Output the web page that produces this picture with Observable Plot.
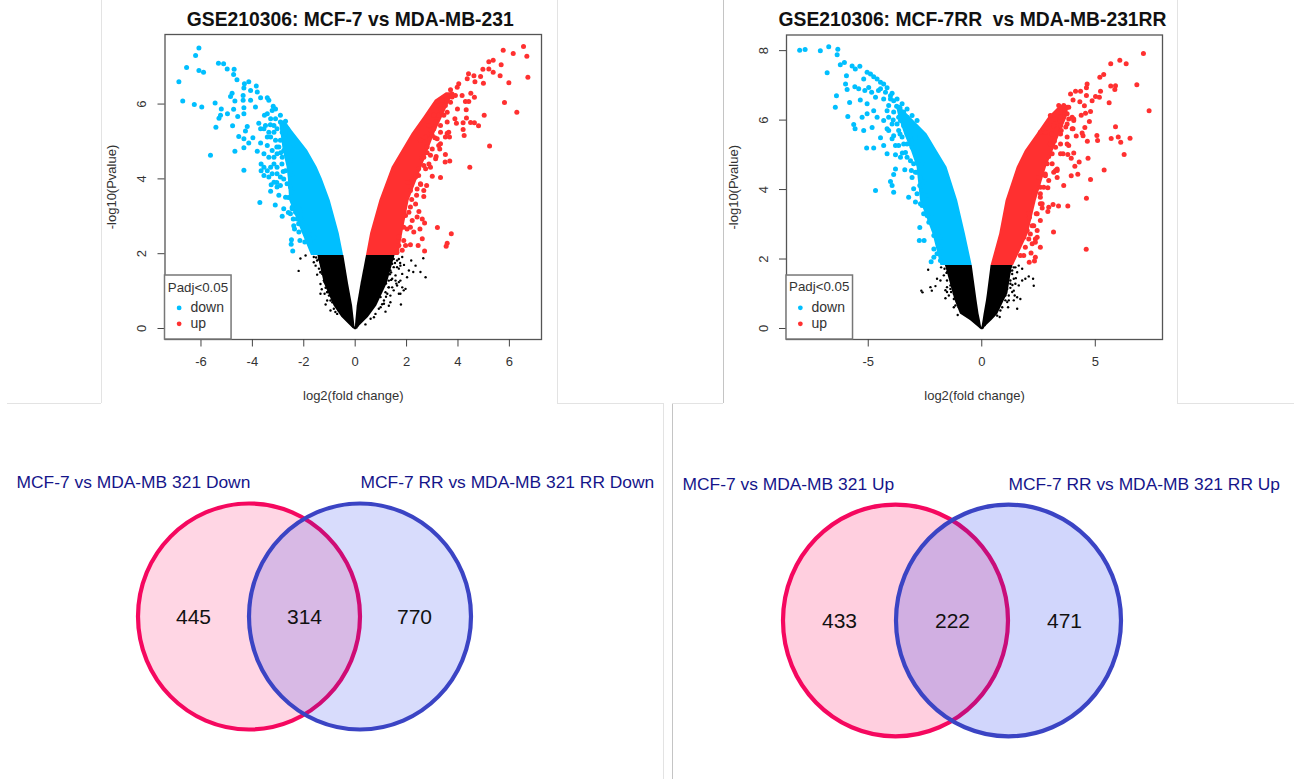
<!DOCTYPE html>
<html>
<head>
<meta charset="utf-8">
<script src="https://cdn.jsdelivr.net/npm/d3@7"></script>
<script src="https://cdn.jsdelivr.net/npm/@observablehq/plot@0.6"></script>
<style>
  html,body{margin:0;padding:0;background:#fff}
  #page{position:relative;width:1299px;height:779px;overflow:hidden;font-family:"Liberation Sans",Arial,sans-serif}
  #page svg{position:absolute;background:transparent;overflow:visible}
  .sep{position:absolute;background:#e3e3e3}
  .sep.dark{background:#c4c4c4}
</style>
</head>
<body>
<div id="page"></div>
<script>
const BLUE = "#00bfff", RED = "#ff3030";

// ---- Panel A: dense bands [-log10 P, x from, x to]
const aBlackLeftBand = [[0,-.08,0],[.3,-.52,-.05],[.6,-.82,-.1],[1.2,-1.2,-.26],[1.95,-1.45,-.44]];
const aBlackRightBand = [[0,0,.08],[.3,.04,.52],[.6,.08,.84],[1.2,.23,1.25],[1.95,.44,1.55]];
const aBlueBand = [[1.95,-1.7,-.45],[2.54,-2.05,-.62],[3.42,-2.55,-.97],[4,-2.6,-1.28],[4.31,-2.65,-1.48],[4.76,-2.8,-1.85],[5.29,-2.9,-2.45],[5.55,-2.95,-2.72]];
const aRedBand = [[1.95,.44,1.7],[2.54,.6,1.85],[3.42,.96,2.1],[4.31,1.44,2.6],[5.21,2.22,3.1],[5.65,2.67,3.4],[6.1,3.12,3.7],[6.3,3.55,3.8]];

// ---- Panel A: individually visible points [log2FC, -log10 P]
const aDown = [[-6.08,7.5],[-6.21,7.3],[-6.56,6.98],[-6.08,6.9],[-5.9,6.85],[-6.86,6.6],[-6.71,6.08],[-6.26,5.99],[-5.97,5.92],[-5.63,4.63],[-5.32,7.09],[-5.12,7.08],[-4.98,6.94],[-4.71,6.93],[-4.73,6.79],[-4.6,6.65],[-4.31,6.54],[-4.14,6.6],[-4.33,6.43],[-3.85,6.48],[-4.07,6.36],[-4.79,6.29],[-4.85,6.2],[-3.81,6.32],[-4.36,6.23],[-4.68,6.08],[-5.45,6.03],[-4.36,6.1],[-3.68,6.17],[-3.42,6.17],[-4.07,6.1],[-5.21,5.87],[-4.73,5.86],[-4.33,5.9],[-3.88,5.92],[-3.19,5.94],[-5.24,5.7],[-4.97,5.74],[-5.3,5.62],[-4.57,5.67],[-4.33,5.74],[-3.53,5.7],[-2.91,5.7],[-5.42,5.38],[-4.77,5.42],[-4.2,5.4],[-3.75,5.49],[-3.3,5.45],[-2.71,5.54],[-4.27,5.28],[-4.53,5.13],[-3.98,5.1],[-4.33,5.07],[-3.55,5.34],[-3.16,5.25],[-4.14,4.96],[-4.33,4.83],[-4.68,4.74],[-3.68,4.96],[-3.81,4.74],[-3.42,5.12],[-2.91,5.03],[-3.55,4.67],[-3.16,4.58],[-4.33,4.23],[-3.66,4.4],[-3.66,4.22],[-3.29,4.31],[-3.55,4.09],[-2.91,4.05],[-3.36,4.05],[-3.27,3.84],[-2.85,4.4],[-3.29,3.67],[-2.97,3.56],[-2.52,3.78],[-2.45,4.14],[-2.52,4.49],[-2.71,3.51],[-3.71,3.37],[-3.11,3.3],[-2.78,3.2],[-2.84,3],[-2.41,2.93],[-2.36,2.66],[-2,2.62],[-2.48,2.37],[-2.15,2.35],[-2.49,2.25],[-1.96,2.31],[-2.43,2.07],[-1.61,2.44],[-2.06,2.89],[-2.9,4.7],[-2.75,5.1],[-3.05,4.85],[-2.7,4.85],[-2.4,4.9],[-2.8,4.2],[-3.05,3.9],[-2.6,3.5],[-2.45,3.2],[-2.2,2.8],[-2.2,3.3],[-2.6,3.1],
 [-3.36,6.1],[-3.23,5.83],[-3.1,5.87],[-3.42,5.74],[-3.29,5.61],[-3.1,5.61],[-2.91,5.52],[-3.16,5.43],[-2.78,5.43],[-3.49,5.43],[-3.68,5.34],[-3.36,5.25],[-3.04,5.34],[-2.84,5.25],[-3.29,5.12],[-3.1,5.03],[-2.97,4.85],[-2.71,5.21],[-2.65,5.34],[-3.42,4.89],[-3.23,4.76],[-3.04,4.67],[-2.78,4.76],[-2.65,4.94],[-3.36,4.58],[-3.16,4.4],[-2.84,4.58],[-3.04,4.31],[-2.71,4.22],[-3.55,4.31],[-3.42,4.22],[-3.23,4.14],[-3.04,4.14],[-2.78,4],[-2.52,4.14],[-3.16,3.91],[-2.91,3.82],[-2.65,3.87],[-2.45,3.65],[-3.04,3.78],
 [-2.26,3.38],[-2.45,3.24],[-2.32,3.11],[-2.13,3.16],[-2.52,3.07],[-2.26,2.93],[-2.06,2.75],[-2.19,2.58],[-1.87,2.71],[-1.8,2.53],[-1.74,2.31],[-2.39,2.75],[-2.13,2.98]];
const aUp = [[6.55,7.54],[5.76,7.44],[6.15,7.35],[6.68,7.28],[5.37,7.17],[5.2,7.13],[5.68,7.05],[5.2,6.94],[4.97,6.93],[5.37,6.85],[5.64,6.76],[6.72,6.72],[4.41,6.81],[4.62,6.76],[4.88,6.74],[4.36,6.68],[4.66,6.6],[4.99,6.56],[5.98,6.57],[4.03,6.54],[3.97,6.45],[3.71,6.38],[3.77,6.27],[4.5,6.29],[4.16,6.23],[4.64,6.18],[4.29,6.07],[4.42,6.07],[5.81,6.04],[3.98,5.87],[4.32,5.85],[6.29,5.78],[5.02,5.7],[3.88,5.61],[4.33,5.63],[4.2,5.5],[4.49,5.51],[4.64,5.5],[4.8,5.42],[3.94,5.49],[4.2,5.32],[4.24,5.16],[5.23,4.88],[4.46,4.31],[3.67,5.12],[3.58,5.22],[3.32,4.94],[3.29,4.8],[3.51,4.65],[3.68,4.48],[3.5,4.45],[2.87,4.4],[3,4.07],[3.32,4.04],[2.74,4.27],[2.78,3.82],[2.67,3.53],[2.39,3.56],[2.47,4.09],[2.15,3.91],[3,4.8],[3.58,5.78],[3.32,5.43],[2.35,3.33],[2.48,3.13],[2.09,3.11],[2.61,2.93],[2.22,2.89],[2.7,2.82],[2.02,2.66],[2.52,2.66],[2.28,2.58],[3.2,2.7],[3.74,2.53],[3.58,2.28],[3.54,2.2],[2.61,2.4],[2.15,2.24],[2.45,2.22],[2.7,2.07],[1.83,2.09],[1.89,2.35],[3.1,5.1],[2.95,5.3],[3.15,4.6],[2.8,4.7],[2.6,4.55],[2.55,3.85],[2.2,3.45],[2.05,3.9],
 [3.19,5.96],[3.39,6.1],[3.58,6.14],[3.77,6.19],[3.32,5.87],[3.51,5.96],[3.71,6.05],[3.9,6.23],[2.8,5.65],[3.06,5.7],[3.25,5.7],[3.45,5.7],[3.58,5.52],[3.13,5.52],[2.87,5.43],[3.32,5.25],[3.06,5.34],[3.64,5.25],[3.51,5.12],[3,5.16],[2.74,5.12],[3.19,5.07],[2.54,5.03],[2.8,4.85],[3.25,4.89],[2.93,4.63],[2.67,4.58],[3.13,4.54],[2.67,4.36],[2.93,4.31],[2.47,4.27],[2.35,4.05],[2.54,3.87],[2.15,3.69],[2.41,3.73],[2.67,3.69],
 [2.15,3.25],[1.96,3.02],[2.41,2.98],[1.89,2.71],[2.15,2.71],[1.7,2.44],[1.96,2.22],[1.7,2.22],[1.63,2.04]];
const aNsLeft = [[0,.01],[-.05,.03],[-.1,.08],[-1.61,1.91],[-1.48,1.82],[-1.54,1.68],[-1.35,1.77],[-1.41,1.6],[-1.28,1.46],[-1.48,1.44],[-1.35,1.19],[-1.15,1.09],[-1.02,.88],[-1.15,.64],[-.89,.7],[-.83,.53],[-.7,.39],[-.96,1.28],[-1.22,1.28],[-1.09,1.64],[-1.28,1.86],[-1.61,1.77],[-1.19,.93],[-.96,.48],[-1.35,.93],[-1.93,1.95],[-2.13,1.87],[-2.2,1.54],[-1.2,1.7],[-1.25,1.55],[-1.15,1.4],[-1.3,1.05],[-1.08,.98],[-1.1,1.2],[-1.42,1.85],[-1.52,1.9],[-1.18,1.8],[-1.35,1.5],
 [-1.22,1.91],[-1.41,1.86],[-1.15,1.73],[-1.35,1.51],[-1.09,1.46],[-1.19,1.24],[-1.02,1.28],[-1.09,.97],[-.89,1.02],[-.96,.75],[-.77,.75],[-.77,.44],[-.64,.48],[-1.09,.75]];
const aNsRight = [[.05,.03],[.1,.08],[2.65,1.88],[2.74,1.37],[2.54,1.51],[2.35,1.68],[2.18,1.82],[2.09,1.55],[2.26,1.51],[2.02,1.37],[1.96,1.06],[1.78,.64],[1.76,.93],[1.37,.7],[1.18,.45],[1.7,1.24],[1.5,1.64],[1.83,1.91],[1.63,1.82],[1.37,1.82],[1.57,1.42],[1.44,1.1],[1.25,.93],[1.12,.75],[1.31,1.28],[1.5,1.02],[1.83,1.46],[.99,.57],[.73,.3],[.4,.11],[1.3,1.9],[1.45,1.9],[1.55,1.75],[1.7,1.6],[1.4,1.5],[1.3,1.65],[1.4,1.3],[1.3,1.1],[1.6,1.2],[1.2,1.2],[1.15,1.5],[1.2,.85],[1.05,.65],[1.35,1.45],[1.75,1.75],[1.9,1.7],
 [1.12,1.91],[1.31,1.91],[1.5,1.86],[1.7,1.86],[1.25,1.73],[1.44,1.73],[1.63,1.64],[1.76,1.68],[1.18,1.6],[1.37,1.55],[1.57,1.28],[1.76,1.28],[1.44,1.33],[1.18,1.37],[1.31,1.1],[1.05,1.19],[1.63,1.15],[1.83,1.1],[1.89,1.02],[1.7,.93],[1.18,.97],[1.37,.88],[.99,.84],[1.12,.66],[1.31,.61],[.92,.53],[.79,.39],[.6,.26]];

// ---- Panel B
const bBlackLeftBand = [[0,-.08,0],[.23,-.5,-.06],[.42,-.94,-.12],[.81,-1.18,-.21],[1.38,-1.42,-.33],[1.81,-1.6,-.42]];
const bBlackRightBand = [[0,0,.08],[.23,.06,.45],[.4,.1,.7],[.81,.21,1.0],[1.0,.25,1.15],[1.81,.41,1.35]];
const bBlueBand = [[1.81,-1.8,-.42],[2.72,-2.15,-.72],[3.68,-2.7,-1.06],[4.64,-2.85,-1.53],[5.12,-3.1,-1.97],[5.6,-3.4,-2.41],[6.08,-3.65,-3.14],[6.37,-3.75,-3.58]];
const bRedBand = [[1.81,.41,1.4],[2.72,.79,2.05],[3.68,1.07,2.4],[4.64,1.56,2.85],[5.12,1.92,3.15],[5.6,2.44,3.45],[6.08,2.95,3.76],[6.37,3.39,3.83]];
const bDown = [[-8.02,8.01],[-7.78,8.03],[-7.11,8],[-6.74,8.11],[-6.34,8.04],[-6.37,7.88],[-6.81,7.36],[-6.05,7.66],[-6.23,7.59],[-5.71,7.56],[-5.37,7.55],[-5.57,7.47],[-5.96,7.28],[-6,7.04],[-5.93,6.88],[-6.4,6.7],[-6.45,6.37],[-5.82,6.51],[-5.9,6.1],[-5.64,5.87],[-5.58,5.75],[-5.2,5.7],[-5.27,6.08],[-5.05,6.18],[-5.35,6.58],[-5.59,6.96],[-5.42,6.9],[-4.9,7.33],[-5.2,7.18],[-4.61,7.18],[-4.32,7.04],[-4.98,6.94],[-4.68,6.66],[-5.05,6.47],[-4.32,6.61],[-4.76,6.27],[-4.61,6.08],[-4.83,5.79],[-4.17,6.27],[-4.02,6.61],[-4.32,5.99],[-4.46,5.49],[-4.32,5.27],[-5.07,5.2],[-4.76,5.2],[-4.17,5.03],[-3.8,5],[-3.88,5.55],[-3.58,5.99],[-3.8,5.27],[-3.73,5.89],[-3.44,5.31],[-3.8,4.59],[-3.88,4.43],[-3.39,4.57],[-3,4.74],[-4.02,4.23],[-3.95,4.12],[-3.88,3.92],[-4.68,3.97],[-3.22,3.78],[-3,4.02],[-2.85,3.88],[-2.73,4.12],[-3.07,4.35],[-2.63,4.74],[-3.29,4.93],[-2.92,3.64],[-2.63,3.54],[-2.56,3.3],[-2.33,3.06],[-2.73,2.91],[-2.75,2.53],[-2.54,2.53],[-2.11,2.68],[-1.97,2.72],[-2.11,2.29],[-1.97,2.15],[-2.23,1.92],[-2.11,2.05],[-1.82,1.96],[-5.15,6.85],[-4.85,6.8],[-4.55,6.85],[-3.75,6.4],[-3.6,6.35],[-3.9,6],[-4.1,5.7],[-3.6,5.6],[-3.3,5.7],[-3.1,5.4],[-3.5,5.05],[-3.1,4.55],[-2.85,4.5],
 [-5.05,7.38],[-4.76,7.25],[-4.46,7.09],[-4.17,6.93],[-3.95,6.77],[-3.73,6.61],[-3.51,6.47],[-3.29,6.32],[-3.07,6.13],[-2.85,5.99],[-4.02,6.7],[-4.24,6.8],[-4.46,6.9],[-3.88,6.56],[-4.1,6.42],[-3.66,6.37],[-3.88,6.23],[-3.44,6.23],[-4.1,6.08],[-3.66,6.08],[-3.29,6.08],[-3.95,5.89],[-3.44,5.84],[-3.07,5.84],[-4.17,5.75],[-3.66,5.7],[-3.29,5.6],[-3.95,5.46],[-3.51,5.51],[-2.92,5.51],[-3.29,5.31],[-3.66,5.27],[-3.07,5.22],[-3.36,5.07],[-2.85,5.12],[-3.58,4.93],[-3.14,4.83],[-2.78,4.93],[-2.92,4.5],[-2.7,4.35],[-2.56,4.21],[-2.63,3.97],[-2.41,3.83],
 [-2.7,3.59],[-2.41,3.49],[-2.19,3.2],[-2.41,3.25],[-1.97,2.96],[-2.11,2.87],[-1.82,2.63],[-1.82,2.34],[-1.67,2.15]];
const bUp = [[7.12,7.92],[6.08,7.72],[5.68,7.62],[6.36,7.62],[5.37,7.31],[5.2,7.23],[6.83,7.02],[4.64,7.04],[4.61,6.93],[5.68,6.98],[5.89,6.99],[5.86,6.88],[5.23,6.83],[4.35,6.83],[4.13,6.83],[3.91,6.75],[4.61,6.71],[5.01,6.68],[5.18,6.66],[4.86,6.56],[4.02,6.58],[4.32,6.53],[5.61,6.5],[4.52,6.41],[4.79,6.25],[4.57,6.2],[4.38,6.14],[7.37,6.27],[4.74,5.96],[5.89,5.81],[4.54,5.79],[4.05,5.99],[4.02,5.75],[4.42,5.63],[4.16,5.54],[4.46,5.55],[5.07,5.56],[5.7,5.47],[6.01,5.51],[6.53,5.48],[5.1,5.41],[4.65,5.39],[6.12,5.36],[6.27,5.01],[4.05,5.05],[3.79,5.01],[3.58,5.03],[3.94,4.9],[4.68,4.9],[4.29,4.79],[4.1,4.67],[5.39,4.56],[4.23,4.44],[3.94,4.4],[4.79,4.29],[3.61,4.12],[3.32,4.55],[3.17,4.5],[3.32,4.35],[4.61,3.75],[2.91,4.05],[2.58,3.88],[3.83,5.27],[3.47,5.03],[3.76,5.51],[3.98,6.08],[3.47,6.37],[3.76,6.37],[2.66,3.59],[3.14,3.57],[3.38,3.53],[3.79,3.53],[2.95,3.49],[2.66,3.47],[2.91,3.37],[2.58,3.11],[3.16,2.78],[2.29,2.96],[2.44,2.82],[2.36,2.58],[2.07,2.58],[2.58,2.34],[4.6,2.28],[2.36,2.48],[2.17,2.17],[2.36,2.05],[2.32,1.94],[2.09,1.91],[1.85,2.1],[3.55,6.1],[3.7,5.8],[3.5,5.7],[3.2,5.4],[2.95,4.95],[2.8,4.4],[2.5,4.35],[2.4,3.3],[2.1,3.2],
 [3.39,6.42],[3.61,6.42],[3.83,6.37],[3.47,6.23],[3.76,6.18],[3.02,6.13],[3.25,6.03],[3.47,6.08],[3.83,6.03],[4.05,6.03],[2.88,5.89],[3.17,5.84],[3.47,5.84],[3.76,5.89],[3.98,5.75],[2.58,5.65],[2.8,5.65],[3.1,5.6],[3.47,5.6],[3.76,5.31],[3.47,5.31],[3.25,5.22],[3.02,5.31],[3.1,5.03],[3.25,4.55],[2.88,4.74],[3.1,4.74],[2.8,4.45],[2.95,4.26],[3.32,4.59],[2.58,4.07],[2.73,4.07],[2.29,3.92],[2.58,3.78],
 [2.58,3.59],[2.44,3.3],[2.22,2.96],[2.07,3.3],[2,2.82],[2.14,2.72],[1.85,2.63],[2.44,2.63],[1.92,2.34],[2.22,2.44],[1.7,2.1]];
const bNsLeft = [[0,.01],[-.05,.03],[-.12,.09],[-2.36,1.69],[-2.66,1.09],[-2.61,1.04],[-2.26,1.19],[-2.2,1.09],[-2.04,1.22],[-1.97,1.43],[-1.82,1.38],[-1.79,1.76],[-1.64,1.72],[-1.6,.87],[-1.53,1.19],[-1.45,1.67],[-1.38,1.48],[-1.35,1.05],[-1.23,.85],[-1.16,.66],[-1.06,.39],[-1.31,1.29],[-1.53,1.38],[-1.67,1.53],[-1.23,1.72],[-1.23,.61],[-1.38,1.24],[-1.55,1.6],[-1.6,1.1],[-1.45,.95],[-1.5,1.75],
 [-1.38,1.76],[-1.53,1.62],[-1.16,1.48],[-1.31,1.38],[-1.09,1.29],[-1.53,1.05],[-1.38,1.14],[-1.23,1.09],[-1.01,.9],[-1.09,.76],[-.94,.66],[-1.23,1],[-1.01,.61]];
const bNsRight = [[.05,.03],[.12,.09],[2.29,1.23],[2.26,1.43],[2.07,1.5],[1.92,1.43],[1.78,1.38],[1.63,1.24],[1.56,.57],[1.7,.85],[1.56,.9],[1.41,.81],[1.16,.61],[1.12,.76],[.79,.33],[1.78,1.72],[1.63,1.81],[1.56,1.62],[1.41,1.09],[1.26,1.38],[1.34,1.57],[1.19,.95],[1.04,.81],[1.41,1.76],[1.26,1.17],[1.5,1.45],[1.35,1.25],[1.45,.95],[1.25,1.65],[1.3,1.8],
 [1.26,1.76],[1.34,1.67],[1.48,1.76],[1.19,1.53],[1.41,1.43],[1.26,1.29],[1.48,1.29],[1.12,1.14],[1.34,1.05],[1.04,.95],[1.19,.81],[.9,.61],[.68,.37],[.82,.52]];

// ---- Venn set sizes and labels
const vennDownCounts = [445,314,770];
const vennUpCounts = [433,222,471];
const vennDownLabels = ["MCF-7 vs MDA-MB 321 Down","MCF-7 RR vs MDA-MB 321 RR Down"];
const vennUpLabels = ["MCF-7 vs MDA-MB 321 Up","MCF-7 RR vs MDA-MB 321 RR Up"];

const page = document.getElementById("page");
function place(el,left,top){ el.style.left=left+"px"; el.style.top=top+"px"; page.appendChild(el); }

function volcano(o){
  const xv = d=>d[0], yv = d=>d[1];
  const band = (b,fill)=>Plot.areaX(b,{y:d=>d[0],x1:d=>d[1],x2:d=>d[2],fill});
  return Plot.plot({
    width:o.width, height:404,
    marginLeft:o.ml, marginRight:o.mr, marginTop:o.mt, marginBottom:65,
    style:{fontFamily:'"Liberation Sans",Arial,sans-serif',fontSize:"13px",color:"#333"},
    x:{domain:o.xDomain}, y:{domain:o.yDomain},
    marks:[
      band(o.ns[0],"#000"), band(o.ns[1],"#000"),
      Plot.dot(o.nsPts[0],{x:xv,y:yv,r:1.2,fill:"#000"}),
      Plot.dot(o.nsPts[1],{x:xv,y:yv,r:1.2,fill:"#000"}),
      band(o.blue,BLUE), band(o.red,RED),
      Plot.dot(o.down,{x:xv,y:yv,r:2.5,fill:BLUE}),
      Plot.dot(o.up,{x:xv,y:yv,r:2.5,fill:RED}),
      Plot.frame({stroke:"#555",strokeWidth:1.3}),
      Plot.axisX({ticks:o.xTicks,tickSize:7.5,tickPadding:10,tickFormat:d=>String(d),
        label:"log2(fold change)",labelAnchor:"center",labelOffset:o.xLabelOffset,labelArrow:"none",fill:"#333",stroke:"#444",fontSize:13}),
      Plot.axisY({ticks:o.yTicks,tickSize:7,tickPadding:o.yPad,tickRotate:-90,tickFormat:d=>String(d),
        label:"-log10(Pvalue)",labelAnchor:"center",labelOffset:o.yLabelOffset,labelArrow:"none",fill:"#333",stroke:"#444",fontSize:13}),
      Plot.rect([o.legend.box],{x1:d=>d[0],x2:d=>d[1],y1:d=>d[2],y2:d=>d[3],fill:"#fff",stroke:"#777",strokeWidth:1.5}),
      Plot.text(["Padj<0.05"],{x:o.legend.titleX,y:o.legend.titleY,fontSize:13.3,fill:"#333"}),
      Plot.dot([0],{x:o.legend.dotX,y:o.legend.downY,r:2.4,fill:BLUE}),
      Plot.dot([0],{x:o.legend.dotX,y:o.legend.upY,r:2.4,fill:RED}),
      Plot.text(["down"],{x:o.legend.textX,y:o.legend.downY,textAnchor:"start",fontSize:14,fill:"#333"}),
      Plot.text(["up"],{x:o.legend.textX,y:o.legend.upY,textAnchor:"start",fontSize:14,fill:"#333"}),
      Plot.text([o.title],{frameAnchor:"top",lineAnchor:"middle",dx:o.titleDx,dy:-15,fontSize:19.3,fontWeight:"bold",fill:"#111"})
    ]
  });
}

place(volcano({width:460,ml:64.5,mr:19,mt:34,xDomain:[-7.40,7.25],yDomain:[-.294,7.86],
  xTicks:[-6,-4,-2,0,2,4,6],yTicks:[0,2,4,6],yPad:12,xLabelOffset:60,yLabelOffset:58,titleDx:-3,
  title:"GSE210306: MCF-7 vs MDA-MB-231",
  ns:[aBlackLeftBand,aBlackRightBand],nsPts:[aNsLeft,aNsRight],blue:aBlueBand,red:aRedBand,down:aDown,up:aUp,
  legend:{box:[-7.40,-4.81,-.294,1.417],titleX:-6.12,titleY:1.10,dotX:-6.85,textX:-6.41,downY:.55,upY:.125}
}),100,0);

place(volcano({width:454,ml:62,mr:16,mt:34.5,xDomain:[-8.6,7.96],yDomain:[-.317,8.45],
  xTicks:[-5,0,5],yTicks:[0,2,4,6,8],yPad:12,xLabelOffset:60,yLabelOffset:58,titleDx:-2,
  title:"GSE210306: MCF-7RR\u00a0 vs MDA-MB-231RR",
  ns:[bBlackLeftBand,bBlackRightBand],nsPts:[bNsLeft,bNsRight],blue:bBlueBand,red:bRedBand,down:bDown,up:bUp,
  legend:{box:[-8.6,-5.67,-.317,1.525],titleX:-7.16,titleY:1.19,dotX:-7.99,textX:-7.5,downY:.596,upY:.135}
}),724,0);

// Ellipse symbol: the venn circles are slightly wider or taller than round
const ellipse = ratio => ({draw(ctx,size){
  const rx=Math.sqrt(size/Math.PI), ry=rx*ratio, k=0.5523;
  ctx.moveTo(rx,0);
  ctx.bezierCurveTo(rx,k*ry,k*rx,ry,0,ry);
  ctx.bezierCurveTo(-k*rx,ry,-rx,k*ry,-rx,0);
  ctx.bezierCurveTo(-rx,-k*ry,-k*rx,-ry,0,-ry);
  ctx.bezierCurveTo(k*rx,-ry,rx,-k*ry,rx,0);
  ctx.closePath();
}});

function venn(o){
  return Plot.plot({
    width:o.width,height:376,margin:0,
    style:{fontFamily:'"Liberation Sans",Arial,sans-serif'},
    x:{domain:[0,o.width],axis:null}, y:{domain:[376,0],axis:null},
    marks:[
      Plot.dot([0],{x:o.cx[0],y:o.cy,r:o.rx,symbol:ellipse(o.ratio),fill:"#ff0055",fillOpacity:o.alpha,stroke:"#f5085f",strokeWidth:4.2}),
      Plot.dot([0],{x:o.cx[1],y:o.cy,r:o.rx,symbol:ellipse(o.ratio),fill:"#0a24ee",fillOpacity:o.alpha,stroke:"#3b44c4",strokeWidth:4.2}),
      Plot.text(o.counts,{x:(d,i)=>o.numX[i],y:o.numY,text:d=>String(d),fontSize:21,fill:"#111"}),
      Plot.text(o.labels,{x:(d,i)=>o.labX[i],y:o.labY,text:d=>d,textAnchor:"start",fontSize:17.4,fill:"#15158a"})
    ]
  });
}

place(venn({width:660,cx:[248.5,359.5],cy:213,rx:111,ratio:1.018,alpha:.16,counts:vennDownCounts,numX:[193,304,414],numY:214,
  labels:vennDownLabels,labX:[16,360],labY:79}),0,403);
place(venn({width:627,cx:[223,336],cy:217,rx:112.5,ratio:1.03,alpha:.19,counts:vennUpCounts,numX:[167,280,392],numY:218,
  labels:vennUpLabels,labX:[10,336],labY:81}),672,403);

// faint edges of the pasted panels
[[101,0,1,403,0],[7,403,94,1,0],[557,0,1,403,0],[557,403,106,1,0],[663,403,1,376,0],[672,403,1,376,1],[723,0,1,403,1],[672,403,51,1,0],[1177,0,1,403,0],[1177,403,117,1,0]]
 .forEach(([l,t,w,h,dark])=>{const d=document.createElement("div");d.className="sep"+(dark?" dark":"");
   d.style.cssText=`left:${l}px;top:${t}px;width:${w}px;height:${h}px`;page.appendChild(d);});
</script>
</body>
</html>
